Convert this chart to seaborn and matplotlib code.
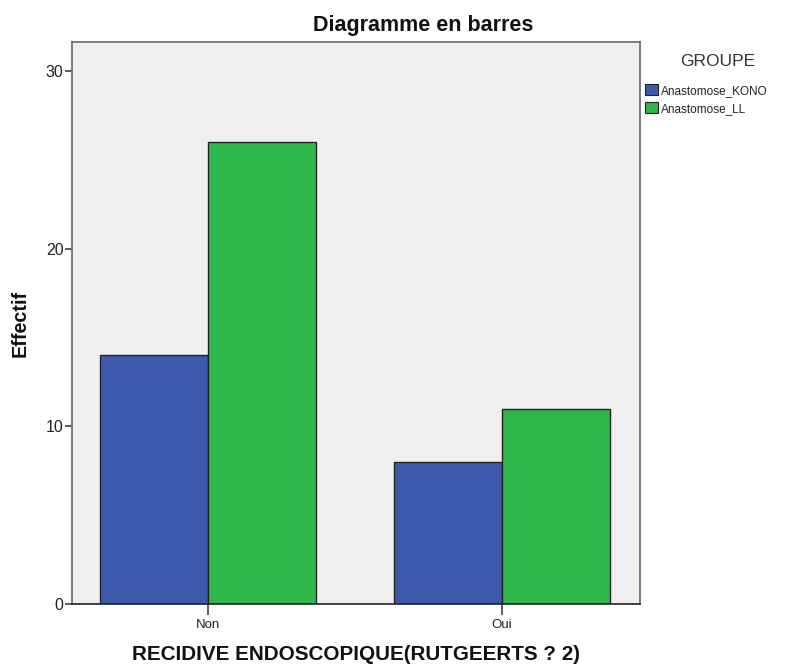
import matplotlib
matplotlib.use("Agg")
import matplotlib.pyplot as plt
import seaborn as sns
import pandas as pd
from matplotlib.patches import Patch

categories = ["Non", "Oui"]
groups = ["Anastomose_KONO", "Anastomose_LL"]
kono = [14, 8]
ll = [26, 11]
yticks = [0, 10, 20, 30]

df = pd.DataFrame({
    "cat": categories * 2,
    "grp": [groups[0]] * 2 + [groups[1]] * 2,
    "val": kono + ll,
})

sns.set_theme(style="white")
plt.rcParams["font.family"] = ["Liberation Sans", "DejaVu Sans"]

colors = {"Anastomose_KONO": "#3e58ac", "Anastomose_LL": "#2eb84b"}

fig = plt.figure(figsize=(7.96, 6.66), dpi=100)
ax = fig.add_axes([72/796, 62/666, (640-72)/796, (604-42)/666])
ax.set_facecolor("#efefef")
sns.barplot(data=df, x="cat", y="val", hue="grp", order=categories,
            hue_order=groups, palette=colors, width=0.737, gap=0,
            edgecolor="#222222", linewidth=1.0, ax=ax, legend=False,
            saturation=1)
ax.set_xlim(-0.463, 1.469)
ax.set_ylim(0, 31.63)
ax.set_yticks(yticks)
ax.set_yticklabels([str(t) for t in yticks], fontsize=11.5, color="#222222")
ax.set_xticks([0, 1])
ax.set_xticklabels(categories, fontsize=9.5, color="#222222")
ax.tick_params(axis="y", length=5, width=1.2, color="#444444", left=True, pad=1)
ax.tick_params(axis="x", length=8, width=1.2, color="#444444", bottom=True, pad=3)
for s in ax.spines.values():
    s.set_color("#666666")
    s.set_linewidth(1.2)
ax.spines["bottom"].set_color("#222222")
ax.set_xlabel("")
ax.set_ylabel("")

fig.text(423/796, 1 - 25/666, "Diagramme en barres", ha="center", va="center",
         fontsize=15.5, fontweight="bold", color="#111111")
fig.text(20/796, 1 - 323/666, "Effectif", ha="center", va="center",
         rotation=90, fontsize=14.2, fontweight="bold", color="#111111")
fig.text(356/796, 1 - 655/666, "RECIDIVE ENDOSCOPIQUE(RUTGEERTS ? 2)", ha="center",
         va="center", fontsize=14.9, fontweight="bold", color="#111111")

fig.text(718/796, 1 - 61/666, "GROUPE", ha="center", va="center",
         fontsize=12.5, color="#333333")
handles = [Patch(facecolor=colors[g], edgecolor="#222222", linewidth=0.8) for g in groups]
leg = fig.legend(handles, groups, loc="upper left",
                 bbox_to_anchor=(637/796, 1 - 76/666), frameon=False,
                 fontsize=8.5, handlelength=1.05, handleheight=1.05,
                 handletextpad=0.25, labelspacing=0.45, borderpad=0.2)
for t in leg.get_texts():
    t.set_color("#222222")

fig.savefig("out.png", dpi=100)
